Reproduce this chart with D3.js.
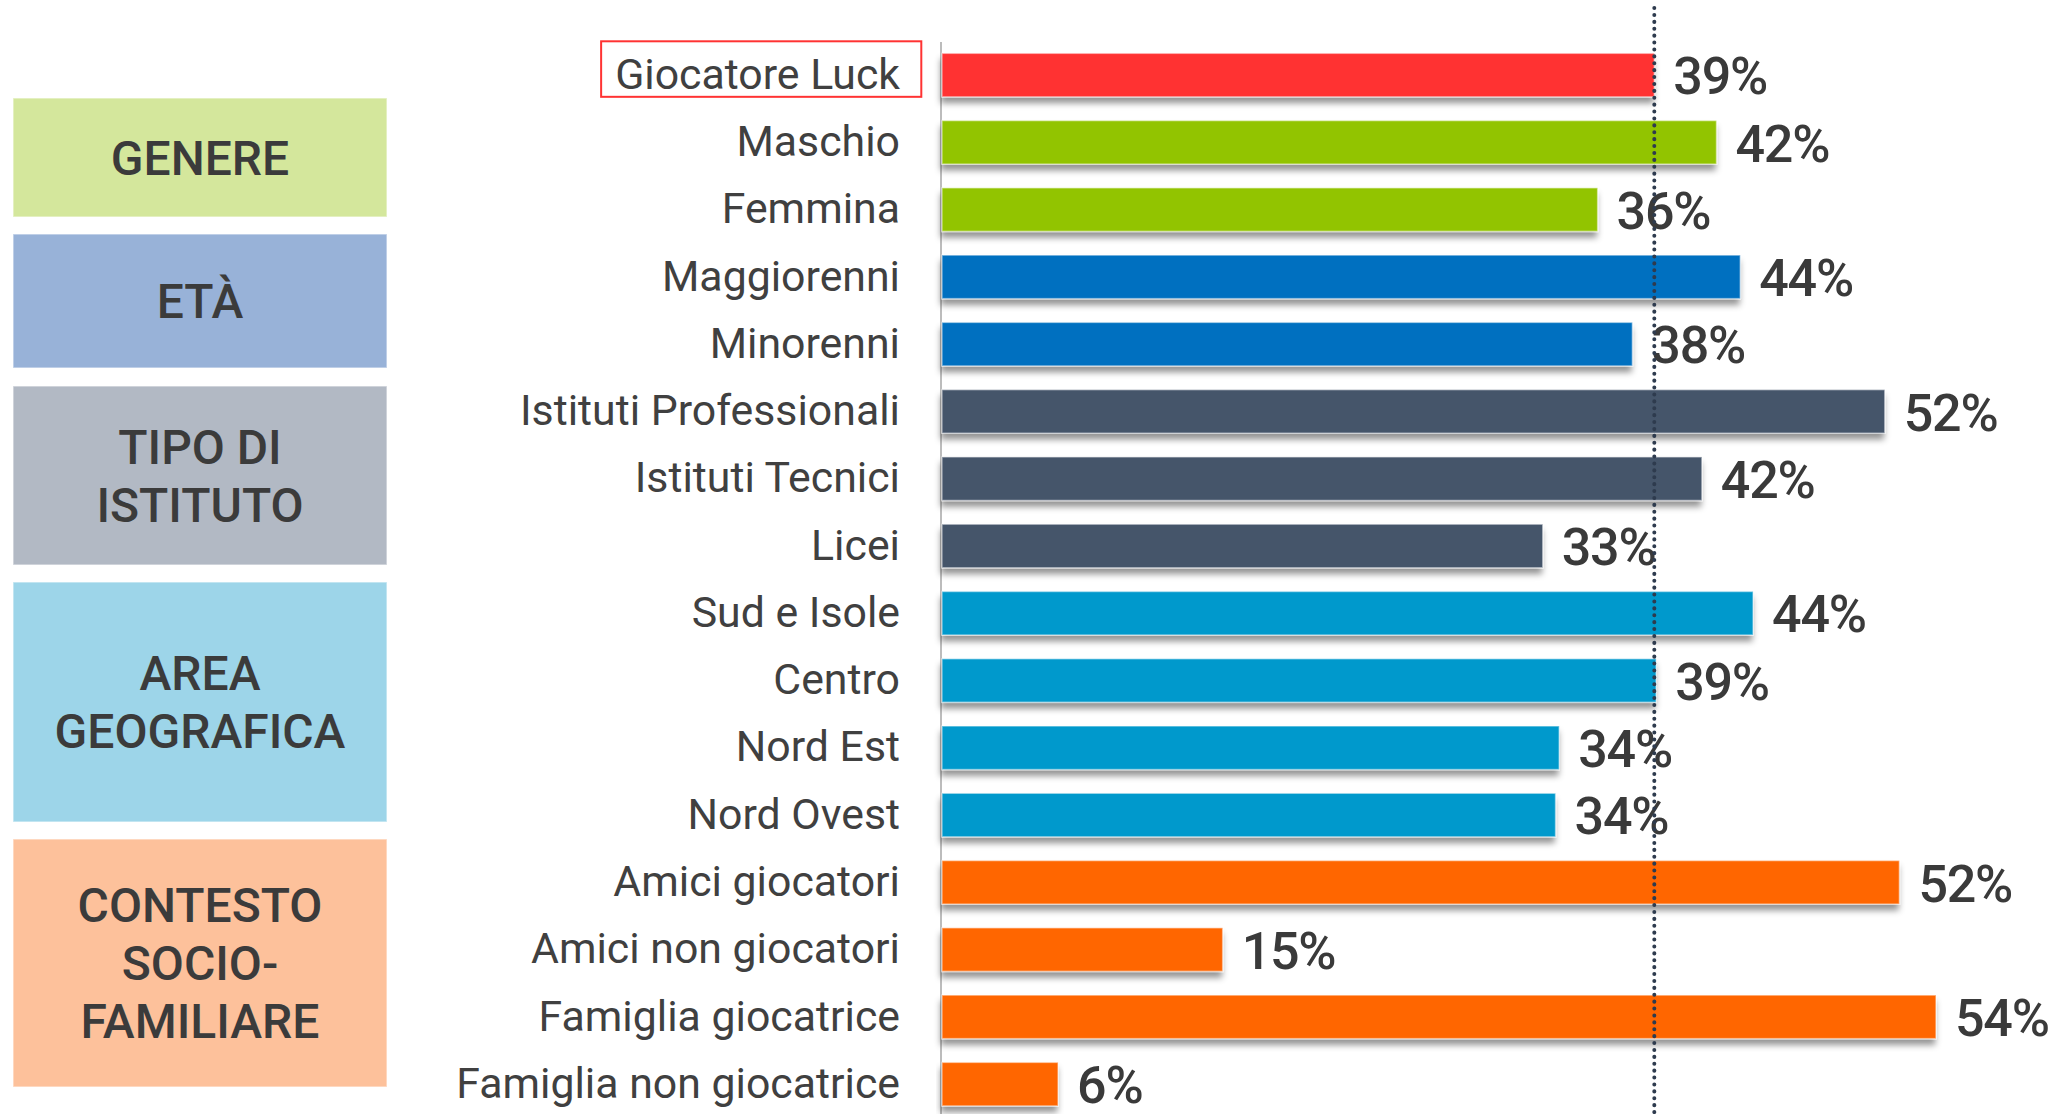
<!DOCTYPE html>
<html>
<head>
<meta charset="utf-8">
<script src="https://cdn.jsdelivr.net/npm/d3@7"></script>
<style>
  body { margin: 0; background: #fff; }
  svg { display: block; font-family: Roboto, "Noto Sans", sans-serif; }
</style>
</head>
<body>
<svg id="chart" width="2064" height="1114"></svg>
<script>
// data
var categories = ["Giocatore Luck", "Maschio", "Femmina", "Maggiorenni", "Minorenni",
  "Istituti Professionali", "Istituti Tecnici", "Licei", "Sud e Isole", "Centro",
  "Nord Est", "Nord Ovest", "Amici giocatori", "Amici non giocatori",
  "Famiglia giocatrice", "Famiglia non giocatrice"];
var values = [39.0, 42.4, 35.9, 43.7, 37.8, 51.6, 41.6, 32.9, 44.4, 39.1, 33.8, 33.6, 52.4, 15.4, 54.4, 6.4];
var barGroup = ["totale", "genere", "genere", "eta", "eta", "istituto", "istituto", "istituto",
  "area", "area", "area", "area", "contesto", "contesto", "contesto", "contesto"];

var groupKeys = ["genere", "eta", "istituto", "area", "contesto"];
var groupLabels = [["GENERE"], ["ETÀ"], ["TIPO DI", "ISTITUTO"], ["AREA", "GEOGRAFICA"], ["CONTESTO", "SOCIO-", "FAMILIARE"]];

// styling
var barColors = { totale: "#ff3333", genere: "#92c400", eta: "#0070c0", istituto: "#44546a", area: "#0099cc", contesto: "#ff6600" };
var boxColors = ["#d4e79c", "#98b2d8", "#b2b9c4", "#9dd5e9", "#fdc19b"];
// vertical extent of the coloured side boxes (hand placed in the original)
var boxExtents = [[98, 217], [234, 368], [386, 565], [582, 822], [839, 1087]];

var svg = d3.select("#chart");
var textColor = "#404040";

var x = d3.scaleLinear().domain([0, 60]).range([941, 941 + 60 * 18.29]);
var y = d3.scaleBand().domain(categories).range([53.3, 1105.9]).paddingInner(0.353).paddingOuter(0);

var defs = svg.append("defs");
var f = defs.append("filter").attr("id", "shadow").attr("x", "-5%").attr("y", "-20%").attr("width", "110%").attr("height", "160%");
f.append("feDropShadow").attr("dx", -1).attr("dy", 6).attr("stdDeviation", 3)
  .attr("flood-color", "#000").attr("flood-opacity", 0.42);

// side boxes
var boxes = svg.append("g").selectAll("g").data(groupKeys).enter().append("g");
boxes.append("rect")
  .attr("x", 13).attr("width", 374)
  .attr("y", function (d, i) { return boxExtents[i][0]; })
  .attr("height", function (d, i) { return boxExtents[i][1] - boxExtents[i][0]; })
  .attr("fill", function (d, i) { return boxColors[i]; })
  .attr("stroke", "#fff").attr("stroke-opacity", 0.5).attr("stroke-width", 1.5);
boxes.each(function (d, i) {
  var lines = groupLabels[i];
  var cy = (boxExtents[i][0] + boxExtents[i][1]) / 2;
  var lh = 58;
  var t = d3.select(this).append("text")
    .attr("text-anchor", "middle")
    .attr("font-size", 48).attr("font-weight", 500).attr("fill", "#3b3b3b");
  lines.forEach(function (l, j) {
    t.append("tspan").attr("x", 200)
      .attr("y", cy - (lines.length - 1) * lh / 2 + j * lh + 17)
      .text(l);
  });
});

// axis line
svg.append("line")
  .attr("x1", x(0)).attr("x2", x(0)).attr("y1", 42).attr("y2", 1114)
  .attr("stroke", "#a6a6a6").attr("stroke-width", 1.5);

// bars
svg.append("g").selectAll("rect").data(categories).enter().append("rect")
  .attr("x", x(0) + 1)
  .attr("y", function (d) { return y(d); })
  .attr("width", function (d, i) { return x(values[i]) - x(0) - 1; })
  .attr("height", y.bandwidth())
  .attr("fill", function (d, i) { return barColors[barGroup[i]]; })
  .attr("stroke", "#fff").attr("stroke-opacity", 0.45).attr("stroke-width", 1.5)
  .attr("filter", "url(#shadow)");

// category labels
var labels = svg.append("g").selectAll("text").data(categories).enter().append("text")
  .attr("x", 900)
  .attr("y", function (d) { return y(d) + y.bandwidth() / 2; })
  .attr("dy", "0.32em")
  .attr("text-anchor", "end")
  .attr("font-size", 42.8).attr("fill", textColor)
  .text(function (d) { return d; });

// red frame around the reference category
var firstLabel = labels.filter(function (d, i) { return i === 0; }).node().getBBox();
svg.append("rect")
  .attr("x", firstLabel.x - 14).attr("y", y(categories[0]) - 12)
  .attr("width", firstLabel.width + 14 + 21).attr("height", y.bandwidth() + 12)
  .attr("fill", "none").attr("stroke", "#ff3333").attr("stroke-width", 2);

// value labels
svg.append("g").selectAll("text").data(values).enter().append("text")
  .attr("x", function (d) { return x(d) + 19; })
  .attr("y", function (d, i) { return y(categories[i]) + y.bandwidth() / 2; })
  .attr("dy", "0.37em")
  .attr("font-size", 52).attr("font-weight", 500).attr("letter-spacing", -1.2).attr("fill", "#3a3a3a")
  .text(function (d) { return d3.format(".0f")(d) + "%"; });

// dotted reference line at the overall value
svg.append("line")
  .attr("x1", x(values[0])).attr("x2", x(values[0]))
  .attr("y1", 8).attr("y2", 1114)
  .attr("stroke", "#2e3b4e").attr("stroke-width", 4)
  .attr("stroke-linecap", "round").attr("stroke-dasharray", "0.1 6.8");
</script>
</body>
</html>
